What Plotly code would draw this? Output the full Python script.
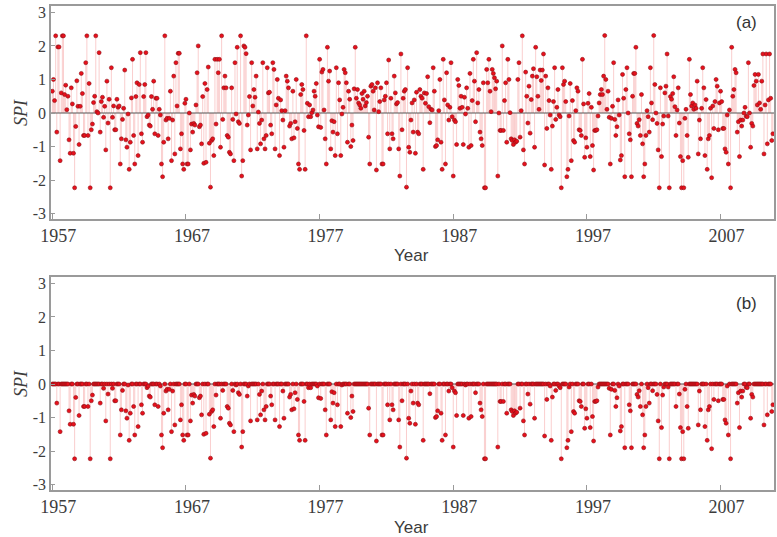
import plotly.graph_objects as go

# Monthly SPI values, grouped by decade (12 values per year)
spi_1957_1966 = [
    0.65, 1.0, 0.37, 2.3, -0.57, 1.97, 1.97, -1.42, 0.6, 2.3, 2.3, 0.55,
    0.83, 0.1, 0.5, -0.8, -1.2, 0.75, 0.27, -1.2, -2.23, -0.4, 0.96, 0.2,
    -0.94, 0.2, 1.18, 0.58, -0.67, -0.67, 1.5, 2.3, -0.67, 0.88, -2.23, -0.5,
    -0.33, 0.31, 0.5, 2.3, 0.04, 0.0, 1.8, -0.57, 0.34, 0.47, -0.13, 0.2,
    -1.1, 0.95, -0.3, 0.41, -2.23, 1.35, -0.13, 0.21, -0.5, -0.5, 0.41, 0.17,
    0.21, -1.52, -0.77, -0.19, 0.14, 1.28, -0.8, -1.02, -0.03, -1.68, -0.87, 0.45,
    1.6, -0.67, -1.52, 0.49, 0.9, -1.27, 0.85, 1.8, -0.62, -0.87, 0.49, 0.85,
    1.8, -0.11, -0.06, -0.36, -0.39, 0.49, 0.11, 0.95, -0.62, 0.44, 0.44, -0.67,
    0.11, -0.06, -1.52, -1.9, -0.87, 2.3, -0.21, -0.16, -0.77, -0.16, 0.65, -1.42,
    -0.21, 1.1, -1.22, 1.5, 0.21, 1.78, 1.78, -1.07, -0.62, -1.52, -1.68, 0.29,
]
spi_1967_1976 = [
    0.41, -1.52, -1.52, 0.0, -1.1, -0.33, -0.57, -0.31, -0.36, 0.24, 1.2, 2.0,
    -0.41, -0.36, -0.92, 0.49, -1.5, 0.88, -1.47, 0.7, 1.37, -0.9, -2.21, -0.82,
    -0.77, -1.27, 1.6, -0.33, 1.6, 1.2, 1.6, -1.02, 2.3, -0.19, 0.75, 1.1,
    0.75, -0.67, -0.72, -1.17, -1.22, 0.75, -0.19, -1.42, 1.5, -0.03, 1.96, -0.26,
    -0.31, 2.3, -1.88, -1.42, 2.0, 1.96, 1.77, -0.36, -0.06, 0.49, -1.1, 1.5,
    0.21, 0.7, 0.47, 1.1, -1.07, 0.03, -0.31, -0.92, -0.21, 1.5, -0.77, -1.07,
    -0.67, 1.35, 0.6, 0.62, -0.36, -0.62, 1.5, 1.3, -1.07, 0.24, 1.0, 0.44,
    -1.27, 0.39, 0.07, -0.21, -1.02, 0.07, 1.1, 0.95, 0.75, -0.39, -0.31, -0.77,
    0.65, -0.74, -0.26, 1.0, -0.46, -1.52, -1.68, 0.55, 0.85, 0.7, -0.52, -1.68,
    2.3, 0.29, -0.11, 0.24, -0.11, 0.01, 0.09, 0.65, 0.5, 0.88, -0.06, -0.41,
]
spi_1977_1986 = [
    1.6, -0.43, 1.22, 1.3, 0.09, -0.77, -1.52, 1.96, 0.95, 1.25, -1.07, -0.23,
    -0.57, -0.26, -1.27, 1.35, -0.62, 0.9, 0.39, -1.27, -0.03, 0.17, 1.3, 1.2,
    0.9, -0.87, 0.65, 0.41, -1.0, -0.36, -0.82, 0.72, 1.96, 0.44, 0.7, 0.3,
    0.24, 0.14, 0.58, 0.41, 0.65, 0.21, 0.31, 0.5, -0.72, -1.52, 0.8, 0.85,
    0.65, 0.09, 0.75, -1.7, 0.9, 0.04, 0.34, 0.75, -1.52, -1.52, 0.39, 0.5,
    0.9, -0.62, 1.58, -1.07, 0.44, -0.62, -0.77, 1.1, 0.6, 0.27, 0.31, -1.07,
    -1.88, 1.76, -0.5, 0.44, 0.65, 0.7, -2.21, 1.35, -1.02, -1.17, -0.21, 0.3,
    -0.57, 0.39, -1.2, 0.62, -0.57, -0.62, 0.7, 0.5, 0.44, -1.68, 0.6, 0.29,
    0.58, 1.08, 0.19, -0.29, 0.11, 0.09, 1.35, 0.65, -1.0, -0.97, -0.8, 0.07,
    1.0, -0.87, -1.68, 1.6, 0.39, -1.52, 1.2, 0.24, -0.21, 0.17, 1.5, -0.11,
]
spi_1987_1996 = [
    -1.88, -0.21, -0.26, -0.94, 1.0, 0.82, 0.14, 0.5, 0.17, -0.94, 0.47, -0.03,
    0.75, 0.14, -1.02, 1.18, -0.97, 0.37, 1.6, 0.95, -0.26, 1.8, 0.3, 0.7,
    -0.57, -0.77, -0.97, 0.9, -2.23, -2.23, 1.3, 0.9, 1.6, 0.65, 0.04, 1.3,
    1.18, 1.05, 0.72, 0.95, -1.88, 0.0, -0.52, -0.52, 2.0, -0.52, 0.37, 0.9,
    -0.87, 1.6, 1.0, 0.01, -0.77, -0.82, -0.94, -0.8, -0.87, -0.84, 1.0, 1.5,
    -0.72, 0.07, 2.3, -1.1, -1.52, 1.22, 0.5, -0.3, 0.8, -0.6, 0.4, 1.1,
    1.32, -1.02, 1.96, 1.08, 0.5, 0.11, 1.28, 0.97, 1.28, 1.76, -1.55, 1.1,
    -0.46, 0.75, 0.37, -0.06, -1.68, -0.39, 0.34, 1.35, -0.19, 0.17, 0.7, -0.06,
    -0.11, -2.23, 1.35, 0.85, 0.95, 0.34, -1.9, -1.68, -0.09, 0.88, -1.42, 0.37,
    -0.82, -0.87, 0.07, 0.75, 0.65, -0.5, -0.52, -0.67, 1.6, 0.27, -1.32, -0.74,
]
spi_1997_2006 = [
    -1.02, 0.29, 0.58, -1.3, 0.17, -0.97, -1.7, -0.52, -0.52, -0.5, -0.09, 0.3,
    0.55, 0.7, 0.55, 1.1, 2.31, 1.0, 0.11, 0.65, -0.13, -1.52, -0.16, 0.2,
    1.5, -0.19, -0.67, -0.41, 0.39, -0.06, -1.4, -1.27, 1.15, 0.44, -1.9, 0.7,
    1.35, 0.0, -0.62, -0.8, -1.9, 0.5, 1.18, 1.18, 1.96, -0.31, -0.39, -0.2,
    -0.67, 0.55, -0.92, -1.9, -1.52, -0.67, 0.07, -0.11, -0.57, 1.35, 0.3, -0.2,
    2.31, 0.85, 0.0, -0.31, -1.1, -2.23, 0.75, -1.3, -0.33, -0.09, 0.6, 0.8,
    1.76, -0.09, -2.23, 0.49, 0.41, 0.58, 1.08, 0.19, -0.67, 0.09, 0.75, -0.3,
    -1.3, -2.23, -1.42, -2.23, -0.16, 0.11, -0.67, -1.32, 1.6, 0.55, 0.21, 0.3,
    0.11, 0.24, 0.14, 0.95, -1.22, -0.21, -0.77, 0.14, 1.35, 0.75, -1.27, 0.4,
    -1.68, -0.77, -0.67, 0.14, -1.93, 0.21, -0.46, 0.34, 1.0, 0.8, -0.5, 0.3,
]
spi_2007_2010 = [
    0.65, 0.34, -0.46, -0.46, -1.07, -1.17, -0.06, -1.52, 0.09, -2.23, 1.96, 0.5,
    0.7, 1.3, 1.2, -0.57, -0.26, -1.3, -0.21, -0.39, -0.21, 0.0, 0.17, -0.1,
    -0.11, 1.5, 0.0, -1.02, -0.31, -0.39, 0.82, 1.15, 0.95, 0.24, 1.15, 0.3,
    0.11, 0.95, 1.76, -1.22, 0.24, 1.76, -0.92, 0.39, 1.76, 0.44, -0.82, -0.62,
]

start_year = 1957
tick_years = [1957, 1967, 1977, 1987, 1997, 2007]
panel_labels = ["(a)", "(b)"]

spi_a = (spi_1957_1966 + spi_1967_1976 + spi_1977_1986
         + spi_1987_1996 + spi_1997_2006 + spi_2007_2010)
spi_b = [min(v, 0.0) for v in spi_a]          # drought part only
t = [start_year + i / 12.0 for i in range(len(spi_a))]

RED = "#e8101c"
STEM = "rgba(240,100,100,0.40)"
GRID = "#9a9a9a"
TXT = "#3c3c3c"


def stems(tt, vv):
    xs, ys = [], []
    for a, b in zip(tt, vv):
        xs += [a, a, None]
        ys += [0, b, None]
    return xs, ys


fig = go.Figure()
for k, (vals, xa, ya) in enumerate([(spi_a, "x", "y"), (spi_b, "x2", "y2")]):
    sx, sy = stems(t, vals)
    fig.add_trace(go.Scatter(x=sx, y=sy, mode="lines", xaxis=xa, yaxis=ya,
                             line=dict(color=STEM, width=0.8),
                             hoverinfo="skip", showlegend=False))
    fig.add_trace(go.Scatter(x=[t[0] - 1, t[-1] + 1], y=[0, 0], mode="lines",
                             xaxis=xa, yaxis=ya,
                             line=dict(color="#555555", width=1),
                             hoverinfo="skip", showlegend=False))
    fig.add_trace(go.Scatter(x=t, y=vals, mode="markers", xaxis=xa, yaxis=ya,
                             marker=dict(color=RED, size=4,
                                         line=dict(color="#8e1016", width=0.6)),
                             showlegend=False))

H = 537
top_px, bot_px = 6, 490
plot_h = bot_px - top_px


def py(p):
    return (bot_px - p) / plot_h


xcommon = dict(range=[1956.9, 2011.0], tickvals=tick_years,
               ticktext=[str(y) for y in tick_years],
               ticks="inside", ticklen=5, tickcolor=GRID, tickwidth=1,
               showline=True, linecolor=GRID, linewidth=1.5, mirror=True,
               showgrid=False, zeroline=False, ticklabelshift=6,
               tickfont=dict(family="Liberation Serif", size=18, color=TXT))
ycommon = dict(range=[-3.16, 3.19], tickvals=[-3, -2, -1, 0, 1, 2, 3],
               ticktext=["-3", "-2", "-1", "0", "1", "2", "3"],
               ticks="inside", ticklen=4, tickcolor=GRID,
               showline=True, linecolor=GRID, linewidth=1.5, mirror=True,
               showgrid=False, zeroline=False,
               tickfont=dict(family="Liberation Serif", size=16, color=TXT))

fig.update_layout(
    width=777, height=H,
    margin=dict(l=51, r=1, t=top_px, b=H - bot_px),
    paper_bgcolor="white", plot_bgcolor="white",
    xaxis=dict(domain=[0, 1], anchor="y", **xcommon),
    yaxis=dict(domain=[py(219), 1], anchor="x", **ycommon),
    xaxis2=dict(domain=[0, 1], anchor="y2", **xcommon),
    yaxis2=dict(domain=[0, py(277)], anchor="x2", **ycommon),
)

ann = []
for lab, yl, yy, ys in [(panel_labels[0], 22, 255, 113), (panel_labels[1], 303, 527, 384)]:
    ann.append(dict(text=lab, xref="paper", yref="paper", x=(748 - 51) / 725, y=py(yl),
                    showarrow=False, xanchor="center", yanchor="middle",
                    font=dict(family="Liberation Sans", size=17, color="#333333")))
    ann.append(dict(text="Year", xref="paper", yref="paper", x=(412 - 51) / 725, y=py(yy),
                    showarrow=False, xanchor="center", yanchor="middle",
                    font=dict(family="Liberation Sans", size=17, color=TXT)))
    ann.append(dict(text="<i>SPI</i>", xref="paper", yref="paper", x=(21 - 51) / 725, y=py(ys),
                    showarrow=False, xanchor="center", yanchor="middle", textangle=-90,
                    font=dict(family="Liberation Serif", size=18, color=TXT)))
fig.update_layout(annotations=ann)

fig.write_html("out.html", config={"displayModeBar": False},
               post_script="document.body.style.margin='0px';document.body.style.overflow='hidden';")
